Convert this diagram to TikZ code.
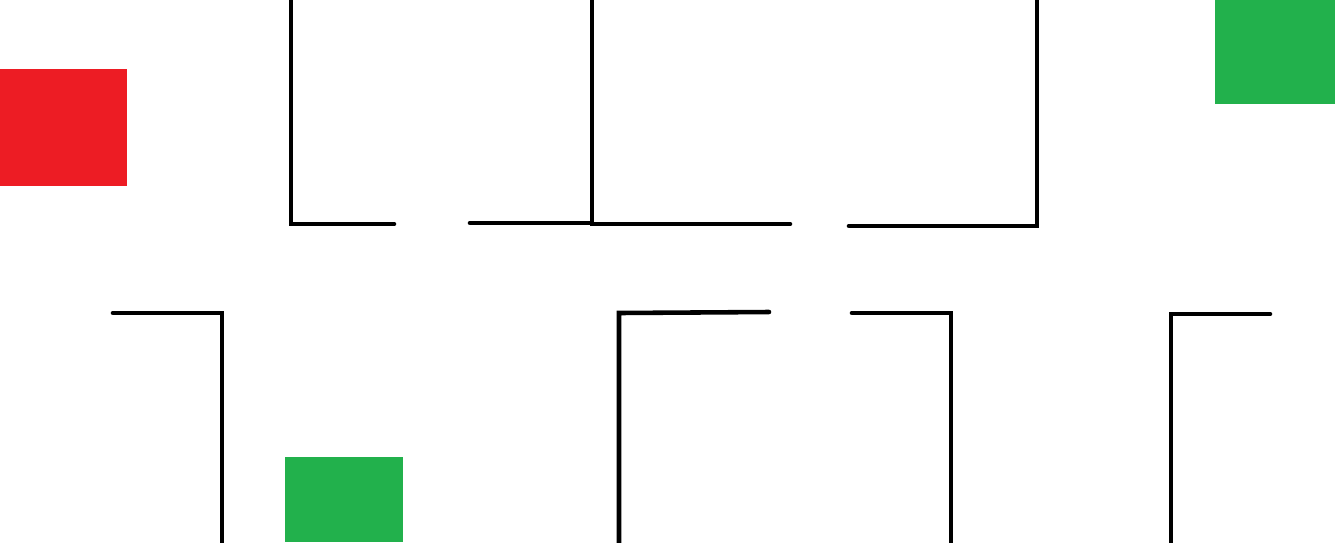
\documentclass[tikz,border=0pt]{standalone}
\usepackage{tikz}
\definecolor{startred}{HTML}{ED1C24}
\definecolor{goalgreen}{HTML}{22B14C}
\tikzstyle{wall}=[draw, black, line width=2.6pt, line cap=round, line join=miter]
\tikzstyle{start}=[fill=startred]
\tikzstyle{goal}=[fill=goalgreen]

\begin{document}
\begin{tikzpicture}[x=0.02cm, y=-0.02cm]
                        \useasboundingbox (0,0) rectangle (1335,542);
                        % squares
                        \path[start] (0,69) rectangle (127,186);
                        \path[goal] (1215,0) rectangle (1335,104);
                        \path[goal] (285,457) rectangle (403,542);
                        % upper walls
                        \draw[wall] (291,-5) -- (291,224) -- (394,224);
                        \draw[wall] (470,223) -- (592,223);
                        \draw[wall] (592,-5) -- (592,224) -- (790,224);
                        \draw[wall] (849,226) -- (1037,226) -- (1037,-5);
                        % lower walls
                        \draw[wall] (113,313) -- (222,313) -- (222,547);
                        \draw[wall] (619,547) -- (619,313) -- (769,312);
                        \draw[wall] (852,313) -- (951,313) -- (951,547);
                        \draw[wall] (1171,547) -- (1171,314) -- (1270,314);
                    \end{tikzpicture}
\end{document}
